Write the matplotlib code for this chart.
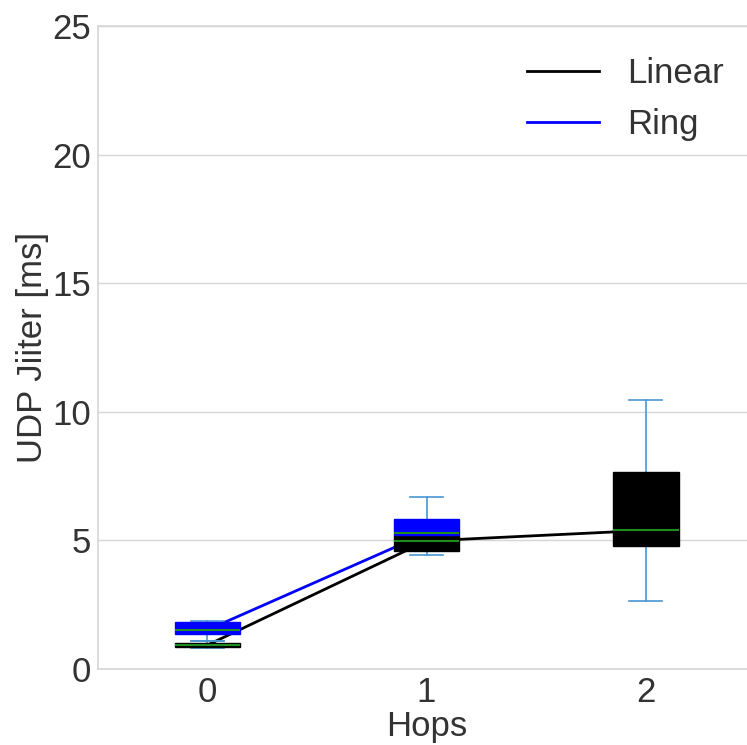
import matplotlib
matplotlib.use("Agg")
import matplotlib.pyplot as plt

# --- DATA ---
hops = [0, 1, 2]

# Linear topology box stats per hop count
lin_whislo = [0.83, 4.43, 2.65]
lin_q1 = [0.85, 4.57, 4.80]
lin_med = [0.93, 4.98, 5.39]
lin_q3 = [1.00, 5.20, 7.65]
lin_whishi = [1.08, 5.60, 10.45]

# Ring topology box stats (no data at 2 hops)
ring_hops = [0, 1]
ring_whislo = [1.10, 4.90]
ring_q1 = [1.35, 5.22]
ring_med = [1.52, 5.28]
ring_q3 = [1.82, 5.83]
ring_whishi = [1.88, 6.67]

yticks = [0, 5, 10, 15, 20, 25]

# --- STYLE ---
plt.rcParams["font.family"] = ["Liberation Sans", "DejaVu Sans"]
text_col = "0.2"
grid_col = "#d6d6d6"
whisk_col = "#4a96d2"
fs = 25


def make_stats(lo, q1, med, q3, hi):
    return [dict(whislo=a, q1=b, med=c, q3=d, whishi=e, fliers=[])
            for a, b, c, d, e in zip(lo, q1, med, q3, hi)]


fig = plt.figure(figsize=(7.47, 7.45), dpi=100)
ax = fig.add_axes([0.131, 0.102, 0.88, 0.863])


def draw_boxes(stats, pos, face):
    ax.bxp(stats, positions=pos, widths=0.3, patch_artist=True,
           showfliers=False,
           boxprops=dict(facecolor=face, edgecolor=face, linewidth=1, zorder=2),
           whiskerprops=dict(color=whisk_col, linewidth=1.2, zorder=1.8),
           capprops=dict(color=whisk_col, linewidth=1.2, zorder=1.8),
           medianprops=dict(color="#1e8c1e", linewidth=1.5, zorder=2.1))


draw_boxes(make_stats(lin_whislo, lin_q1, lin_med, lin_q3, lin_whishi), hops, "black")
draw_boxes(make_stats(ring_whislo, ring_q1, ring_med, ring_q3, ring_whishi), ring_hops, "blue")

ax.plot(hops, lin_med, color="black", lw=2, label="Linear", zorder=1.5)
ax.plot(ring_hops, ring_med, color="blue", lw=2, label="Ring", zorder=1.5)

ax.set_xlim(-0.5, 2.5)
ax.set_ylim(0, 25)
ax.set_xticks(hops)
ax.set_xticklabels([str(h) for h in hops])
ax.set_yticks(yticks)
ax.tick_params(length=0, labelsize=fs, colors=text_col, pad=5)
ax.yaxis.grid(True, color=grid_col, lw=1)
ax.set_axisbelow(True)
for s in ax.spines.values():
    s.set_color(grid_col)
    s.set_linewidth(1.2)

ax.set_xlabel("Hops", fontsize=fs, color=text_col, labelpad=1)
ax.set_ylabel("UDP Jiiter [ms]", fontsize=fs, color=text_col, labelpad=2)

leg = ax.legend(loc="upper right", frameon=False, fontsize=fs, handlelength=2.1)
for t in leg.get_texts():
    t.set_color(text_col)

fig.savefig("out.png", dpi=100)
